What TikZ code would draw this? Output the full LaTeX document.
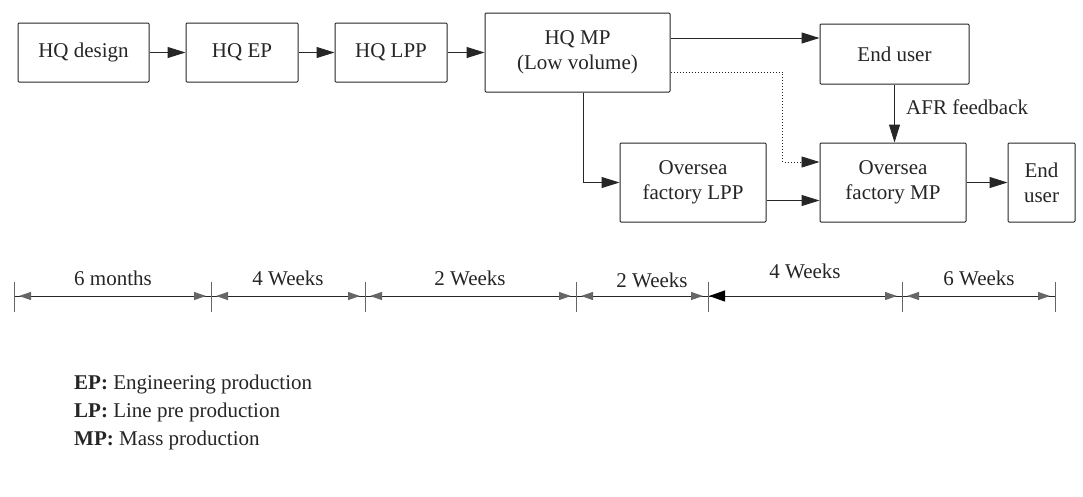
\documentclass[tikz,border=0pt]{standalone}
\usepackage{fontspec}
\setmainfont{Liberation Serif}
\usetikzlibrary{arrows.meta,calc}
\begin{document}
\begin{tikzpicture}[x=1pt,y=-1pt,
  font=\fontsize{21}{25}\selectfont,
  box/.style={draw=black!85, line width=1pt, align=center, inner sep=0pt,
              rounded corners=1pt, minimum height=59pt, text=black!85},
  arr/.style={draw=black!85, line width=1pt, -{Triangle[length=18pt,width=11pt]}},
  dotarr/.style={arr, dotted, line width=0.9pt},
  tl/.style={draw=black!85, line width=1pt},
  tick/.style={draw=black!60, line width=0.8pt},
  dimtip/.style={{Triangle[length=12pt,width=8pt,color=black!60]}-{Triangle[length=12pt,width=8pt,color=black!60]},
                 draw=black!85, line width=1pt, shorten <=5pt, shorten >=5pt},
  lbl/.style={text=black!85, inner sep=0pt}]
\fill[white] (0,0) rectangle (1083,496);
\useasboundingbox (0,0) rectangle (1083,496);

% process chain
\node[box, minimum width=131pt] (design) at (83.5,52.5) {HQ design};
\node[box, minimum width=112pt] (ep) at (242,52.5) {HQ EP};
\node[box, minimum width=112pt] (lpp) at (391,52.5) {HQ LPP};
\node[box, minimum width=185pt, minimum height=79pt] (hqmp) at (577.5,52.5) {HQ MP\\(Low volume)};
\node[box, minimum width=149pt, minimum height=60pt] (eu) at (894.5,54) {End user};
\node[box, minimum width=146pt, minimum height=79pt] (olpp) at (693,182.5) {Oversea\\factory LPP};
\node[box, minimum width=146pt, minimum height=79pt] (omp) at (893,182.5) {Oversea\\factory MP};
\node[box, minimum width=67pt, minimum height=79pt] (eu2) at (1041.5,182.5) {End\\user};

\draw[arr] (design) -- (ep);
\draw[arr] (ep) -- (lpp);
\draw[arr] (lpp) -- (hqmp);

\coordinate (mpout) at ($(hqmp.east)+(0,-14.5)$);
\draw[arr] (mpout) -- (mpout -| eu.west);

\coordinate (dotout) at ($(hqmp.east)+(0,19.5)$);
\coordinate (dotin) at ($(omp.west)+(0,-20.5)$);
\coordinate (dotbend) at ($(dotin)+(-37,0)$);
\draw[dotarr] (dotout) -| (dotbend) -- (dotin);

\draw[arr] ([xshift=5.5pt]hqmp.south) |- (olpp.west);

\coordinate (lppout) at ($(olpp.east)+(0,18)$);
\draw[arr] (lppout) -- (lppout -| omp.west);

\draw[arr] (omp) -- (eu2);
\draw[arr] (eu.south) -- (eu.south |- omp.north);
\node[lbl, anchor=west] (afr) at (906,107) {AFR feedback};

% time line
\coordinate (t0) at (14,296);
\coordinate (t1) at (211,296);
\coordinate (t2) at (365,296);
\coordinate (t3) at (576,296);
\coordinate (t4) at (708,296);
\coordinate (t5) at (902,296);
\coordinate (t6) at (1055,296);
\draw[tl] (t0) -- (t6);
\foreach \t in {t0,t1,t2,t3,t4,t5,t6}
  \draw[tick] ($(\t)+(0,-14)$) -- ($(\t)+(0,16)$);
\draw[dimtip] (t0) -- (t1);
\draw[dimtip] (t1) -- (t2);
\draw[dimtip] (t2) -- (t3);
\draw[dimtip] (t3) -- (t4);
\draw[draw=black!85, line width=1pt,
      {Triangle[length=16pt,width=11pt,color=black]}-{Triangle[length=12pt,width=8pt,color=black!60]},
      shorten <=1pt, shorten >=5pt] (t4) -- (t5);
\draw[dimtip] (t5) -- (t6);

\node[lbl] (d1) at (113,278) {6 months};
\node[lbl] (d2) at (288,278) {4 Weeks};
\node[lbl] (d3) at (470,278) {2 Weeks};
\node[lbl] (d4) at (652,280) {2 Weeks};
\node[lbl] (d5) at (805,271) {4 Weeks};
\node[lbl] (d6) at (979,278) {6 Weeks};

% abbreviations
\node[lbl, anchor=west] (lg1) at (74,384) {\textbf{EP:} Engineering production};
\node[lbl, anchor=west] (lg2) at (74,412) {\textbf{LP:} Line pre production};
\node[lbl, anchor=west] (lg3) at (74,440) {\textbf{MP:} Mass production};
\end{tikzpicture}
\end{document}
